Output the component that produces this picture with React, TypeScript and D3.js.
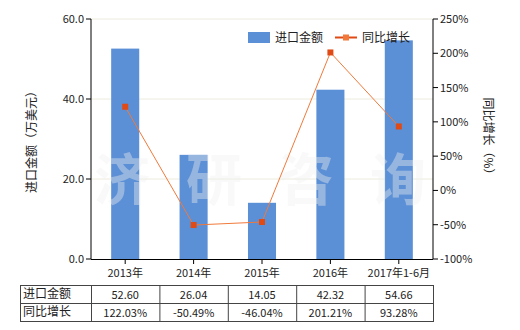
import React from "react";
import * as d3 from "d3";

const categories = ["2013年", "2014年", "2015年", "2016年", "2017年1-6月"];
const importValues = [52.6, 26.04, 14.05, 42.32, 54.66];
const growthValues = [122.03, -50.49, -46.04, 201.21, 93.28];
const importLabels = ["52.60", "26.04", "14.05", "42.32", "54.66"];
const growthLabels = ["122.03%", "-50.49%", "-46.04%", "201.21%", "93.28%"];
const leftTicks = [0, 20, 40, 60];
const rightTicks = [-100, -50, 0, 50, 100, 150, 200, 250];
const seriesNames = ["进口金额", "同比增长"];
const watermark = ["济", "研", "咨", "询"];

const W = 520, H = 330;
const L = 91, R = 433, T = 19, B = 259;
const font = "'Noto Sans CJK SC', 'Noto Sans', sans-serif";
const barColor = "#5b8fd6";
const lineColor = "#f07a3c";
const markColor = "#e04a14";
const textColor = "#222";

export default function App() {
  const x = d3.scaleBand<string>().domain(categories).range([L, R]).paddingInner(0.59).paddingOuter(0.295);
  const xc = (c: string) => (x(c) as number) + x.bandwidth() / 2;
  const yL = d3.scaleLinear().domain([0, 60]).range([B, T]);
  const yR = d3.scaleLinear().domain([-100, 250]).range([B, T]);
  const line = d3.line<number>().x((_, i) => xc(categories[i])).y((d) => yR(d));
  const colW = (R - L) / categories.length;
  const tableTop = 285, rowH = 18;

  return (
    <svg width={W} height={H} style={{ position: "absolute", left: 0, top: 0, fontFamily: font }}>
      <rect width={W} height={H} fill="#fff" />
      {leftTicks.filter((t) => t > 0).map((t) => (
        <line key={t} x1={L} x2={R} y1={yL(t)} y2={yL(t)} stroke="#ecebdc" strokeWidth={1} />
      ))}
      {categories.map((c, i) => (
        <rect key={c} x={x(c)} y={yL(importValues[i])} width={x.bandwidth()} height={B - yL(importValues[i])} fill={barColor} />
      ))}
      <g fill="#f0f0f0" fillOpacity={0.4} fontSize={56} fontWeight="bold" textAnchor="middle">
        {watermark.map((ch, i) => (
          <text key={ch} x={122 + i * 92} y={200}>{ch}</text>
        ))}
      </g>
      <path d={line(growthValues) || ""} fill="none" stroke={lineColor} strokeWidth={1} />
      {growthValues.map((v, i) => (
        <rect key={i} x={xc(categories[i]) - 3} y={yR(v) - 3} width={6} height={6} fill={markColor} />
      ))}
      <line x1={L} x2={L} y1={T} y2={B} stroke="#000" />
      <line x1={R} x2={R} y1={T} y2={B} stroke="#000" />
      <line x1={L} x2={R} y1={B + 0.5} y2={B + 0.5} stroke="#000" />
      {leftTicks.map((t) => (
        <g key={t}>
          <line x1={L - 5} x2={L} y1={yL(t)} y2={yL(t)} stroke="#000" />
          <text x={L - 7} y={yL(t) + 4} textAnchor="end" fontSize={11} fill={textColor}>{t.toFixed(1)}</text>
        </g>
      ))}
      {rightTicks.map((t) => (
        <g key={t}>
          <line x1={R} x2={R + 5} y1={yR(t)} y2={yR(t)} stroke="#000" />
          <text x={R + 7} y={yR(t) + 4} textAnchor="start" fontSize={11} fill={textColor}>{t}%</text>
        </g>
      ))}
      {categories.map((c) => (
        <g key={c}>
          <line x1={xc(c)} x2={xc(c)} y1={B} y2={B + 5} stroke="#000" />
          <text x={xc(c)} y={277} textAnchor="middle" fontSize={11} fill={textColor}>{c}</text>
        </g>
      ))}
      <text transform={`translate(36,${(T + B) / 2}) rotate(-90)`} textAnchor="middle" fontSize={12} fill={textColor}>进口金额（万美元）</text>
      <text transform={`translate(484,${(T + B) / 2}) rotate(90)`} textAnchor="middle" fontSize={12} fill={textColor}>同比增长（%）</text>
      <rect x={248} y={32} width={22} height={11} fill={barColor} />
      <text x={275} y={42} fontSize={12} fill={textColor}>{seriesNames[0]}</text>
      <line x1={335} x2={357} y1={37.5} y2={37.5} stroke={markColor} strokeWidth={2} />
      <rect x={343} y={34.5} width={6} height={6} fill={lineColor} />
      <text x={362} y={42} fontSize={12} fill={textColor}>{seriesNames[1]}</text>
      <g stroke="#444" strokeWidth={1} fill="none">
        <rect x={20.5} y={tableTop + 0.5} width={R - 20} height={rowH * 2} />
        <line x1={20.5} x2={R + 0.5} y1={tableTop + rowH + 0.5} y2={tableTop + rowH + 0.5} />
        {d3.range(categories.length).map((i) => (
          <line key={i} x1={L + i * colW + 0.5} x2={L + i * colW + 0.5} y1={tableTop} y2={tableTop + rowH * 2} />
        ))}
      </g>
      <text x={23} y={tableTop + 13} fontSize={12} fill={textColor}>{seriesNames[0]}</text>
      <text x={23} y={tableTop + rowH + 13} fontSize={12} fill={textColor}>{seriesNames[1]}</text>
      {categories.map((c, i) => (
        <g key={c}>
          <text x={xc(c)} y={tableTop + 14} textAnchor="middle" fontSize={11} fill={textColor}>{importLabels[i]}</text>
          <text x={xc(c)} y={tableTop + rowH + 14} textAnchor="middle" fontSize={11} fill={textColor}>{growthLabels[i]}</text>
        </g>
      ))}
    </svg>
  );
}
